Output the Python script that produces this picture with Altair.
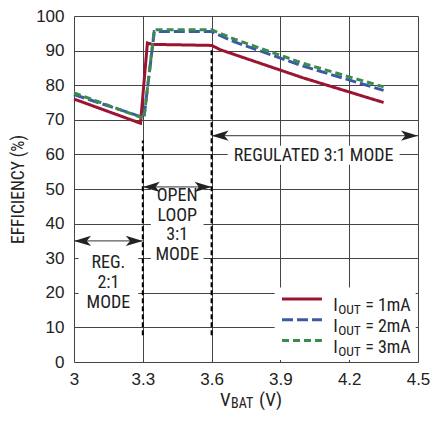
import altair as alt
import pandas as pd

REG = "Liberation Sans"
NAR = "'Liberation Sans Narrow', 'Roboto Condensed', 'DejaVu Sans Condensed', 'Liberation Sans', sans-serif"

# ---- data ----
series_names = ["1mA", "2mA", "3mA"]
series_colors = ["#9b1532", "#3a5aa8", "#3b8b4c"]
series_dash = [[1, 0], [11, 4], [7, 4]]

v_1ma = [3.0, 3.29, 3.32, 3.34, 3.6, 3.64, 4.0, 4.35]
e_1ma = [76.0, 69.0, 92.2, 91.8, 91.5, 90.2, 82.1, 75.0]
v_2ma = [3.0, 3.305, 3.35, 3.6, 3.7, 4.0, 4.35]
e_2ma = [77.3, 70.6, 95.5, 95.5, 92.5, 85.5, 78.5]
v_3ma = [3.0, 3.305, 3.35, 3.6, 3.7, 4.0, 4.35]
e_3ma = [77.8, 70.4, 96.0, 96.0, 93.3, 86.3, 79.5]

x_ticks = [3.0, 3.3, 3.6, 3.9, 4.2, 4.5]
y_ticks = [0, 10, 20, 30, 40, 50, 60, 70, 80, 90, 100]

# mode boundaries / arrows
mode_x = [3.3, 3.6]
mode_y_top = [64, 91]
mode_y_bot = [7.7, 7.7]
arrow_x1 = [3.0, 3.3, 3.6]
arrow_x2 = [3.3, 3.6, 4.5]
arrow_y = [35, 50.6, 65.4]

# annotation text
ann_text = ["REG.", "2:1", "MODE", "OPEN", "LOOP", "3:1", "MODE", "REGULATED 3:1 MODE"]
ann_x = [3.15, 3.15, 3.15, 3.45, 3.45, 3.45, 3.45, 4.045]
ann_y = [28.5, 22.7, 17.0, 48.0, 42.3, 36.6, 31.0, 59.6]

# white backgrounds behind texts and legend
box_x1 = [3.02, 3.335, 3.67, 3.875]
box_x2 = [3.28, 3.565, 4.42, 4.49]
box_y1 = [14.0, 28.5, 57.0, 0.6]
box_y2 = [31.5, 51.5, 62.5, 21.5]

# legend
leg_line_x1 = [3.907] * 3
leg_line_x2 = [4.081] * 3
leg_line_y = [18.2, 12.2, 6.25]
leg_base_y = [14.6, 8.6, 2.6]
leg_text_x = 4.13
leg_vals = ["= 1mA", "= 2mA", "= 3mA"]

# ---- tables ----
rows = []
for name, vs, es in zip(series_names, [v_1ma, v_2ma, v_3ma], [e_1ma, e_2ma, e_3ma]):
    for i, (v, e) in enumerate(zip(vs, es)):
        rows.append({"series": name, "v": v, "e": e, "o": i})
df = pd.DataFrame(rows)

df_mode = pd.DataFrame({"x": mode_x, "y1": mode_y_bot, "y2": mode_y_top})
df_arrow = pd.DataFrame({"x1": arrow_x1, "x2": arrow_x2, "y": arrow_y})
df_ann = pd.DataFrame({"t": ann_text, "x": ann_x, "y": ann_y})
df_box = pd.DataFrame({"x1": box_x1, "x2": box_x2, "y1": box_y1, "y2": box_y2})
df_leg = pd.DataFrame({
    "series": series_names, "x1": leg_line_x1, "x2": leg_line_x2, "y": leg_line_y,
    "yb": leg_base_y, "xt": [leg_text_x] * 3, "val": leg_vals,
})
df_xt = pd.DataFrame({"t": ["V", "BAT", "(V)"], "x": [3.637] * 3, "y": [-12.6] * 3,
                      "k": ["big", "sub", "big2"]})

xs = alt.Scale(domain=[3, 4.5], nice=False, zero=False)
ys = alt.Scale(domain=[0, 100], nice=False)
x_axis = alt.Axis(values=x_ticks, format="~g", grid=True, ticks=False, domain=False,
                  labelFont=REG, labelFontSize=17, labelColor="#222", labelPadding=9,
                  gridColor="#444", gridWidth=1, labelFlush=False)
y_axis = alt.Axis(values=y_ticks, grid=True, ticks=False, domain=False,
                  labelFont=REG, labelFontSize=17, labelColor="#222", labelPadding=10,
                  gridColor="#444", gridWidth=1, title="EFFICIENCY (%)", titleFont=NAR,
                  titleFontSize=17.5, titleFontWeight="normal", titleColor="#222", titlePadding=8)


def X(f):
    return alt.X(f, type="quantitative", scale=xs, axis=x_axis, title=None)


def Y(f):
    return alt.Y(f, type="quantitative", scale=ys, axis=y_axis, title="EFFICIENCY (%)")


color = alt.Color("series:N", scale=alt.Scale(domain=series_names, range=series_colors), legend=None)
dash = alt.StrokeDash("series:N", scale=alt.Scale(domain=series_names, range=series_dash), legend=None)

boxes = alt.Chart(df_box).mark_rect(fill="white").encode(
    x=X("x1"), x2="x2", y=Y("y1"), y2="y2")

modes = alt.Chart(df_mode).mark_rule(color="black", strokeWidth=2, strokeDash=[5, 3]).encode(
    x=X("x"), y=Y("y1"), y2="y2")

arrows = alt.Chart(df_arrow).mark_rule(color="#333", strokeWidth=1).encode(
    x=X("x1"), x2="x2", y=Y("y"))

right_head = "M0,0 L-2,-0.6 L-1.5,0 L-2,0.6 Z"
left_head = "M0,0 L2,-0.6 L1.5,0 L2,0.6 Z"
heads_r = alt.Chart(df_arrow).mark_point(shape=right_head, filled=True, size=289, color="#222",
                                         opacity=1, strokeWidth=0).encode(x=X("x2"), y=Y("y"))
heads_l = alt.Chart(df_arrow).mark_point(shape=left_head, filled=True, size=289, color="#222",
                                         opacity=1, strokeWidth=0).encode(x=X("x1"), y=Y("y"))

ann = alt.Chart(df_ann).mark_text(font=NAR, fontSize=18, color="#222", align="center",
                                  baseline="middle").encode(x=X("x"), y=Y("y"), text="t:N")

lines = alt.Chart(df).mark_line(strokeWidth=3).encode(
    x=X("v"), y=Y("e"), color=color, strokeDash=dash, order="o:Q", detail="series:N")

leg_lines = alt.Chart(df_leg).mark_rule(strokeWidth=3).encode(
    x=X("x1"), x2="x2", y=Y("y"), color=color, strokeDash=dash)
leg_i = alt.Chart(df_leg).mark_text(font=NAR, fontSize=18, color="#222", align="left",
                                    baseline="alphabetic", text="I").encode(x=X("xt"), y=Y("yb"))
leg_sub = alt.Chart(df_leg).mark_text(font=NAR, fontSize=13.5, color="#222", align="left",
                                      baseline="alphabetic", dx=5, dy=3, text="OUT").encode(x=X("xt"), y=Y("yb"))
leg_val = alt.Chart(df_leg).mark_text(font=NAR, fontSize=18, color="#222", align="left",
                                      baseline="alphabetic", dx=32).encode(x=X("xt"), y=Y("yb"), text="val:N")

xt_big = alt.Chart(df_xt).transform_filter(alt.datum.k == "big").mark_text(
    font=NAR, fontSize=19, color="#222", align="left", baseline="alphabetic").encode(
    x=X("x"), y=Y("y"), text="t:N")
xt_sub = alt.Chart(df_xt).transform_filter(alt.datum.k == "sub").mark_text(
    font=NAR, fontSize=14, color="#222", align="left", baseline="alphabetic", dx=11, dy=2).encode(
    x=X("x"), y=Y("y"), text="t:N")
xt_big2 = alt.Chart(df_xt).transform_filter(alt.datum.k == "big2").mark_text(
    font=NAR, fontSize=19, color="#222", align="left", baseline="alphabetic", dx=39).encode(
    x=X("x"), y=Y("y"), text="t:N")

chart = alt.layer(
    boxes, modes, arrows, heads_r, heads_l, ann, lines, leg_lines, leg_i, leg_sub, leg_val,
    xt_big, xt_sub, xt_big2
).properties(
    width=344, height=346,
    autosize=alt.AutoSizeParams(type="none"),
    padding={"left": 66, "top": 8, "right": 12, "bottom": 51},
).configure_view(stroke="black", strokeWidth=2).configure(background="white")

chart.save("out.html", embed_options={"renderer": "svg", "actions": False})
